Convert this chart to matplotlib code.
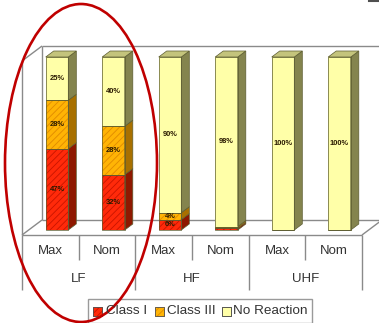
import matplotlib
matplotlib.use("Agg")
import matplotlib.pyplot as plt
from matplotlib.patches import Polygon, Rectangle, Ellipse
import numpy as np

plt.rcParams['font.family'] = ['Liberation Sans', 'DejaVu Sans']
plt.rcParams['hatch.linewidth'] = 0.6

# ---- data -------------------------------------------------------------
groups = ["LF", "HF", "UHF"]
levels = ["Max", "Nom"]
series = ["Class I", "Class III", "No Reaction"]
class_i = [47, 32, 6, 1, 0, 0]
class_iii = [28, 28, 4, 1, 0, 0]
no_reaction = [25, 40, 90, 98, 100, 100]
label_i = ["47%", "32%", "6%", "", "", ""]
label_iii = ["28%", "28%", "4%", "", "", ""]
label_nr = ["25%", "40%", "90%", "98%", "100%", "100%"]

# ---- styling ------------------------------------------------------------
face = ["#FF2A0A", "#FFB405", "#FFFFA8"]
hatch_col = ["#C81400", "#E08A00", None]
side = ["#8E1800", "#A87000", "#84844E"]
top_col = "#C4C47C"
edge_col = "#5C5C30"
grid_col = "#8A8A8A"

W, H = 379, 323
fig = plt.figure(figsize=(W / 100, H / 100), dpi=100)

# pixel layout of the plotting box
X0, XS = 57.0, 56.5      # centre of first bar, spacing between bars
Y0, YS = 230.0, 1.73     # baseline, pixels per percent
BW = 0.40                # bar width in category units
DX, DY = 8 / XS, 6 / YS  # 3D depth of bars

# frame axes (pixel coordinates, drawn under the bars)
ax_bg = fig.add_axes([0, 0, 1, 1])
ax_bg.set_xlim(0, W)
ax_bg.set_ylim(H, 0)
ax_bg.axis("off")

lk = dict(color=grid_col, lw=1.0, solid_capstyle="butt")
back_top, back_left, floor_back, floor_front = 46, 42, 220, 235
front_left, front_right = 22, 362
ax_bg.plot([back_left, W], [back_top, back_top], **lk)
ax_bg.plot([front_left, back_left], [back_top + 15, back_top], **lk)
ax_bg.plot([back_left, back_left], [back_top, floor_back], **lk)
ax_bg.plot([back_left, W], [floor_back, floor_back], **lk)
ax_bg.plot([front_left, back_left], [floor_front, floor_back], **lk)
ax_bg.plot([front_left, front_right], [floor_front, floor_front], **lk)
ax_bg.plot([front_right, front_right + 20], [floor_front, floor_back], **lk)
ax_bg.plot([front_left, front_left], [back_top + 15, floor_front], **lk)

# category axis: separators and labels
cell = (front_right - front_left) / (len(groups) * len(levels))
for g in range(len(groups) + 1):
    x = front_left + g * len(levels) * cell
    ax_bg.plot([x, x], [floor_front, 290], **lk)
for g, name in enumerate(groups):
    gx = front_left + g * len(levels) * cell
    for k in range(1, len(levels)):
        ax_bg.plot([gx + k * cell, gx + k * cell], [floor_front, 260], **lk)
    for k, lev in enumerate(levels):
        ax_bg.text(gx + (k + 0.5) * cell, 251, lev, ha="center", va="center",
                   fontsize=9.5, color="#333333")
    ax_bg.text(gx + len(levels) * cell / 2, 279, name, ha="center",
               va="center", fontsize=9.5, color="#333333")

ax_bg.plot([369, W], [1, 1], color="#505050", lw=1.5)

# bar axes (data coordinates)
ax = fig.add_axes([0, 0, 1, 1])
ax.set_xlim(-X0 / XS, (W - X0) / XS)
ax.set_ylim((Y0 - H) / YS, Y0 / YS)
ax.axis("off")
ax.patch.set_alpha(0)

x = np.arange(len(no_reaction))
stack = [class_i, class_iii, no_reaction]
labels = [label_i, label_iii, label_nr]
bottom = np.zeros(len(x))
for s, vals in enumerate(stack):
    vals = np.asarray(vals, dtype=float)
    if hatch_col[s]:
        ax.bar(x, vals, BW, bottom=bottom, color=face[s],
               edgecolor=hatch_col[s], linewidth=0, hatch="/////", zorder=2)
    else:
        ax.bar(x, vals, BW, bottom=bottom, color=face[s], linewidth=0,
               zorder=2)
    ax.bar(x, vals, BW, bottom=bottom, fill=False, edgecolor=edge_col,
           linewidth=0.5, zorder=3)
    for i in range(len(x)):
        if vals[i] <= 0:
            continue
        xr = x[i] + BW / 2
        y0, y1 = bottom[i], bottom[i] + vals[i]
        ax.add_patch(Polygon([(xr, y0), (xr + DX, y0 + DY), (xr + DX, y1 + DY),
                              (xr, y1)], closed=True, facecolor=side[s],
                             edgecolor=edge_col, lw=0.5, zorder=2))
        if labels[s][i]:
            ax.text(x[i], (y0 + y1) / 2, labels[s][i], ha="center",
                    va="center", fontsize=5.4, fontweight="bold",
                    color="#2a1a00", zorder=4)
    bottom = bottom + vals

for i in range(len(x)):
    xl, xr, t = x[i] - BW / 2, x[i] + BW / 2, bottom[i]
    ax.add_patch(Polygon([(xl, t), (xl + DX, t + DY), (xr + DX, t + DY),
                          (xr, t)], closed=True, facecolor=top_col,
                         edgecolor=edge_col, lw=0.5, zorder=2))

# overlay: legend and highlight ellipse (pixel coordinates)
ax_fg = fig.add_axes([0, 0, 1, 1])
ax_fg.set_xlim(0, W)
ax_fg.set_ylim(H, 0)
ax_fg.axis("off")
ax_fg.patch.set_alpha(0)

ax_fg.add_patch(Rectangle((88, 299), 224, 24, facecolor="white",
                          edgecolor="#9A9A9A", lw=1.0))
sq_x = [93, 155, 222]
tx_x = [106, 167, 233]
for s, name in enumerate(series):
    ax_fg.add_patch(Rectangle((sq_x[s], 307), 8.5, 8.5, facecolor=face[s],
                              edgecolor=hatch_col[s] or edge_col, lw=0.6,
                              hatch="/////" if hatch_col[s] else None))
    ax_fg.add_patch(Rectangle((sq_x[s], 307), 8.5, 8.5, fill=False,
                              edgecolor="#555555", lw=0.6))
    ax_fg.text(tx_x[s], 311.5, name, ha="left", va="center", fontsize=9.7,
               color="#333333")

ax_fg.add_patch(Ellipse((81, 163), 152, 318, fill=False,
                        edgecolor="#C00000", lw=1.9))

fig.savefig("out.png", dpi=100)
